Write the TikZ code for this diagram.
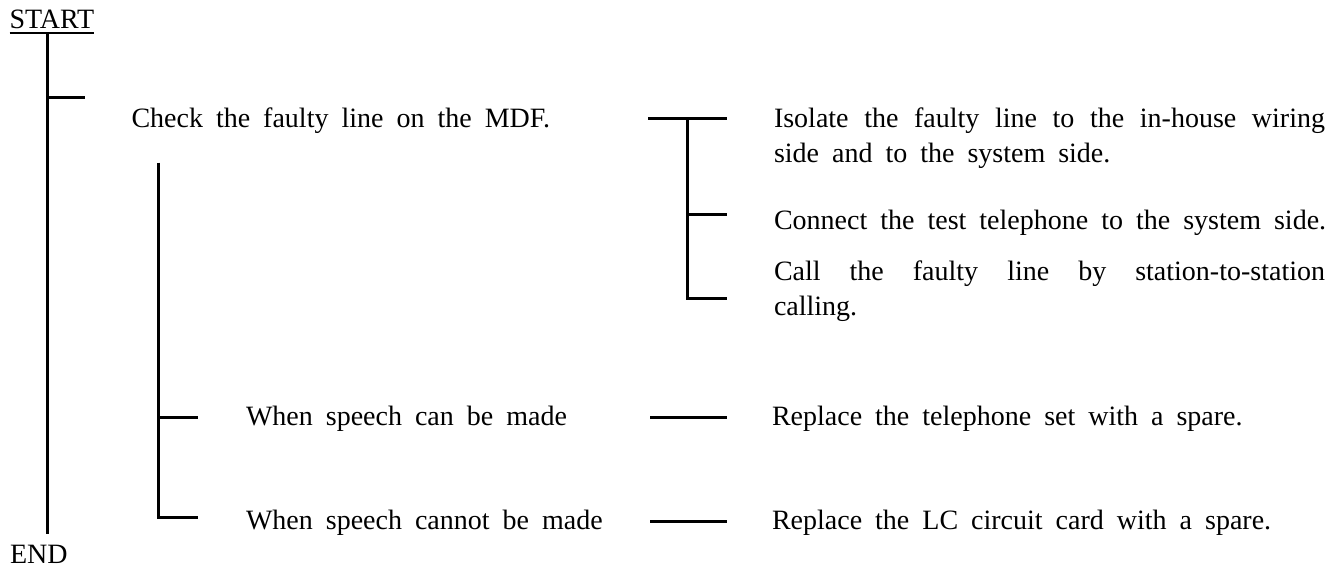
\documentclass[tikz,border=0pt]{standalone}
\usepackage{fontspec}
\setmainfont{Liberation Serif}
\newcommand\diagfont{\fontsize{28}{34.5}\selectfont\spaceskip=13pt plus 30pt minus 2pt\relax}
\begin{document}
\begin{tikzpicture}[x=1pt,y=-1pt,
  ln/.style={line width=3pt},
  txt/.style={anchor=base west, inner sep=0pt, outer sep=0pt, font=\diagfont},
  para/.style={txt, text width=551pt, align=justify}]
\useasboundingbox (0,0) rectangle (1330,567);

% texts
\node[txt] (start) at (9.5,28.5) {START};
\node[txt] (end) at (10,563.5) {END};
\node[txt] (check) at (131.5,128) {Check the faulty line on the MDF.};
\node[para] (isolate) at (774,128) {Isolate the faulty line to the in-house wiring\linebreak side and to the system side.};
\node[txt] (connect) at (774,229.5) {Connect the test telephone to the system side.};
\node[para] (call) at (774,280.7) {Call the faulty line by station-to-station\linebreak calling.};
\node[txt] (can) at (246,425.7) {When speech can be made};
\node[txt] (cannot) at (246,529) {When speech cannot be made};
\node[txt] (rep1) at (772,425.7) {Replace the telephone set with a spare.};
\node[txt] (rep2) at (772,529) {Replace the LC circuit card with a spare.};

% underline of START
\draw[line width=1.8pt] ([yshift=-4.5pt]start.base west) -- ([yshift=-4.5pt]start.base east);

% main line
\coordinate (m0) at (47.5,33.5);
\coordinate (m1) at (47.5,534);
\coordinate (t1) at (85,98);
\draw[ln] (m0) -- (m1);
\draw[ln] (m0 |- t1) -- (t1);

% sub branch
\coordinate (s0) at (158.5,162.5);
\coordinate (s1) at (197.5,417.7);
\coordinate (s2) at (197.5,517.5);
\draw[ln] (s0) |- (s2);
\draw[ln] (s0 |- s1) -- (s1);

% T connector to the three steps
\coordinate (a0) at (648,119);
\coordinate (a1) at (727,119);
\coordinate (v0) at (687.7,119);
\coordinate (b1) at (727,214.3);
\coordinate (c1) at (727,298.3);
\draw[ln] (a0) -- (a1);
\draw[ln] (v0) |- (c1);
\draw[ln] (v0 |- b1) -- (b1);

% connectors to replacement actions
\coordinate (r1a) at (650,417.7);
\coordinate (r1b) at (727,417.7);
\coordinate (r2a) at (650,521);
\coordinate (r2b) at (727,521);
\draw[ln] (r1a) -- (r1b);
\draw[ln] (r2a) -- (r2b);
\end{tikzpicture}
\end{document}
